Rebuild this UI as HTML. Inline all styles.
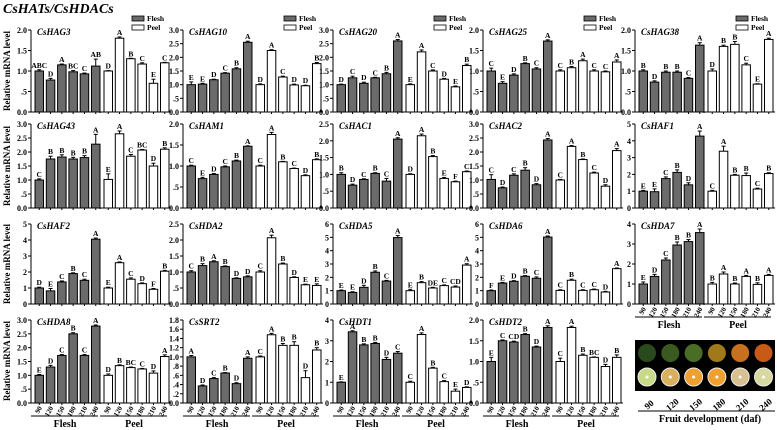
<!DOCTYPE html>
<html><head><meta charset="utf-8"><style>
html,body{margin:0;padding:0;background:#fff;}
svg{display:block;font-family:"Liberation Serif",serif;}
</style></head><body>
<svg id="fig" width="777" height="430" viewBox="0 0 777 430" xmlns="http://www.w3.org/2000/svg">
<text x="3" y="13" font-size="14" font-weight="bold" font-style="italic">CsHATs/CsHDACs</text>
<text transform="translate(10,71) rotate(-90)" font-size="9" font-weight="bold" text-anchor="middle">Relative mRNA level</text>
<text transform="translate(10,166) rotate(-90)" font-size="9" font-weight="bold" text-anchor="middle">Relative mRNA level</text>
<text transform="translate(10,264) rotate(-90)" font-size="9" font-weight="bold" text-anchor="middle">Relative mRNA level</text>
<text transform="translate(10,361) rotate(-90)" font-size="9" font-weight="bold" text-anchor="middle">Relative mRNA level</text>
<g id="photo">
<rect x="635" y="340" width="140" height="51" fill="#000"/>
</g>
</svg>
<script>
const genes=["CsHAG3","CsHAG10","CsHAG20","CsHAG25","CsHAG38","CsHAG43","CsHAM1","CsHAC1","CsHAC2","CsHAF1","CsHAF2","CsHDA2","CsHDA5","CsHDA6","CsHDA7","CsHDA8","CsSRT2","CsHDT1","CsHDT2"];
const stages=["90","120","150","180","210","240"];
const yMax=[2,3,3,2,2, 3,2,2.5,3,5, 5,2.5,6,6,4, 3,1.8,4,2];
const fleshValues=[
[1.0,0.78,1.15,0.98,0.93,1.12],[1.0,1.02,1.18,1.42,1.58,2.55],[1.0,1.25,1.05,1.25,1.4,2.6],[1.0,0.7,0.9,1.18,1.05,1.73],[1.0,0.73,0.97,0.97,0.82,1.63],
[1.0,1.75,1.82,1.75,1.8,2.28],[1.0,0.7,0.8,0.98,1.12,1.47],[1.0,0.68,0.85,1.03,0.8,2.05],[1.02,0.72,1.17,1.35,0.83,2.43],[1.0,0.97,1.75,2.12,1.38,4.28],
[1.0,0.82,1.38,1.9,1.48,4.05],[1.0,1.2,1.32,1.17,0.8,0.85],[1.0,0.87,1.25,2.38,1.72,4.98],[1.0,1.57,1.7,2.08,1.93,5.02],[1.0,1.38,2.2,2.95,3.12,3.57],
[1.0,1.3,1.72,2.5,1.72,2.78],[1.0,0.37,0.53,0.65,0.42,0.97],[1.0,3.43,2.8,2.87,2.1,2.4],[1.0,1.5,1.47,1.65,1.35,1.82]];
const peelValues=[
[1.0,1.8,1.3,1.17,0.7,1.2],[1.0,2.25,1.28,0.99,0.96,1.77],[1.0,2.2,1.5,1.2,0.92,1.7],[1.0,1.08,1.25,1.0,0.98,1.22],[1.0,1.6,1.65,1.15,0.68,1.77],
[1.02,2.65,1.85,2.07,1.5,2.1],[1.0,1.75,1.1,0.94,0.77,1.15],[1.0,2.15,1.53,0.88,0.78,1.08],[1.0,2.2,1.73,1.25,0.78,2.05],[1.0,3.38,1.95,1.93,1.13,2.05],
[1.0,2.58,1.55,1.27,0.92,2.05],[1.0,2.07,1.25,0.83,0.6,0.58],[1.0,1.6,1.2,1.38,1.27,2.92],[1.02,1.78,1.02,1.07,0.9,2.65],[1.0,1.5,1.0,1.38,0.98,1.43],
[1.0,1.35,1.28,1.23,1.08,1.68],[1.0,1.48,1.25,1.25,0.55,1.15],[1.0,3.3,1.68,1.03,0.57,0.75],[1.0,1.82,1.15,1.1,0.88,1.1]];
const fleshLetters=[
["ABC","D","A","BC","C","AB"],["E","E","D","C","B","A"],["D","C","D","C","B","A"],["C","E","D","B","C","A"],["B","D","B","B","C","A"],
["C","B","B","B","B","A"],["C","E","D","C","B","A"],["B","D","C","B","C","A"],["C","D","C","B","D","A"],["E","E","C","B","D","A"],
["D","E","C","B","C","A"],["C","B","A","B","D","D"],["E","E","D","B","C","A"],["F","E","D","B","C","A"],["E","D","C","B","B","A"],
["E","D","C","B","C","A"],["A","D","C","B","D","A"],["E","A","B","B","D","C"],["E","C","CD","B","D","A"]];
const peelLetters=[
["D","A","B","C","E","C"],["D","A","C","D","D","B"],["E","A","C","D","E","B"],["C","B","A","C","C","A"],["D","B","B","C","E","A"],
["E","A","C","BC","D","B"],["C","A","B","C","D","B"],["D","A","B","E","F","C"],["C","A","B","C","D","A"],["C","A","B","B","C","B"],
["E","A","C","D","F","B"],["C","A","B","D","E","E"],["E","B","DE","C","CD","A"],["C","B","C","C","D","A"],["B","A","B","A","B","A"],
["D","B","BC","C","D","A"],["C","A","B","B","D","B"],["C","A","B","C","E","D"],["C","A","B","BC","D","B"]];
const fleshErr=[
[.03,.04,.02,.03,.02,.17],[.1,.03,.02,.02,.04,.04],[.02,.06,.04,.02,.05,.05],[.07,.04,.03,.02,.03,.03],[.03,.03,.03,.03,.02,.06],
[.04,.1,.08,.06,.07,.35],[.02,.03,.02,.02,.02,.01],[.05,.03,.02,.02,.08,.04],[.17,.03,.05,.09,.04,.05],[.05,.17,.1,.15,.12,.3],
[.05,.15,.06,.05,.07,.07],[.04,.06,.03,.02,.02,.03],[.05,.05,.15,.1,.05,.15],[.05,.05,.05,.05,.1,.08],[.1,.1,.1,.15,.1,.18],
[.03,.06,.03,.04,.03,.04],[.03,.02,.02,.01,.02,.03],[.02,.05,.05,.05,.1,.08],[.1,.02,.02,.02,.02,.04]];
const peelErr=[
[.01,.03,.01,.03,.1,.01],[.03,.03,.03,.03,.02,.04],[.03,.07,.04,.03,.03,.05],[.03,.03,.04,.03,.02,.05],[.05,.03,.07,.04,.01,.03],
[.2,.1,.06,.02,.1,.05],[.02,.05,.01,.01,.02,.02],[.02,.05,.03,.03,.02,.02],[.02,.03,.02,.03,.05,.07],[.05,.3,.05,.15,.05,.05],
[.05,.05,.08,.05,.05,.05],[.04,.08,.03,.02,.02,.05],[.1,.08,.05,.05,.08,.1],[.05,.08,.05,.05,.05,.05],[.08,.1,.05,.05,.08,.05],
[.05,.03,.02,.02,.08,.06],[.02,.03,.04,.08,.15,.05],[.05,.08,.04,.05,.1,.03],[.08,.03,.03,.01,.05,.06]];
const axisX=[31,183,333,483,635];
const rowTop=[30,124,224,320];
const rowBase=[112,208,304,403];
const NS="http://www.w3.org/2000/svg";
const svg=document.getElementById('fig');
function mk(tag,attrs,parent,txt){const e=document.createElementNS(NS,tag);for(const k in attrs)e.setAttribute(k,attrs[k]);if(txt!==undefined)e.textContent=txt;(parent||svg).appendChild(e);return e;}
function tickStep(m){if(m===1.8)return 0.2;if(m>=4)return 1;return 0.5;}
function fmt(v,m){if(m>=4)return String(Math.round(v));let s=v.toFixed(1);if(v>0&&v<1)s=s.substring(1);return s;}
const labelPanels=[14,15,16,17,18];
genes.forEach((g,gi)=>{
  const col=gi%5,row=Math.floor(gi/5);
  const ax=axisX[col],top=rowTop[row],base=rowBase[row],m=yMax[gi];
  const y=v=>base-(v/m)*(base-top);
  const grp=mk('g',{},svg);
  
  
  // axes
  const ya=mk('line',{x1:ax,y1:top,x2:ax,y2:base,stroke:'#000','stroke-width':1},grp);
  
  const xa=mk('line',{x1:ax,y1:base,x2:ax+140,y2:base,stroke:'#000','stroke-width':1},grp);
  
  mk('line',{x1:ax+69,y1:base-3,x2:ax+69,y2:base+1,stroke:'#000','stroke-width':1},grp);
  const st=tickStep(m);
  for(let t=0;t<=m+1e-6;t+=st){
    const yy=y(t);
    mk('line',{x1:ax-3,y1:yy,x2:ax,y2:yy,stroke:'#000'},grp);
    const tl=mk('text',{x:ax-4,y:yy+3,'font-size':8,'font-weight':'bold','text-anchor':'end'},grp,fmt(t,m));
    
  }
  const tt=mk('text',{x:ax+6,y:top+5,'font-size':9,'font-weight':'bold','font-style':'italic'},grp,g);
  
  [[fleshValues,fleshErr,fleshLetters,4,'#6b6b6b','flesh'],[peelValues,peelErr,peelLetters,73,'#fff','peel']].forEach(([vals,errs,lets,off,fill,nm])=>{
    vals[gi].forEach((v,i)=>{
      const bx=ax+off+i*11.3,bw=8.5,by=y(v),e=errs[gi][i];
      const r=mk('rect',{x:bx,y:by,width:bw,height:base-by,fill:fill,stroke:'#000','stroke-width':1},grp);
      
      
      const ey=y(v+e),cx=bx+bw/2;
      mk('line',{x1:cx,y1:by,x2:cx,y2:ey,stroke:'#000'},grp);
      mk('line',{x1:cx-2,y1:ey,x2:cx+2,y2:ey,stroke:'#000'},grp);
      const lt=mk('text',{x:cx,y:ey-2,'font-size':7.5,'font-weight':'bold','text-anchor':'middle'},grp,lets[gi][i]);
      
      
    });
    vals[gi].forEach((v,i)=>{
      const tx=ax+off+i*11.3+4.25;
      mk('line',{x1:tx,y1:base,x2:tx,y2:base+2,stroke:'#000'},grp);
    });
  });
  if(row===0){
    const lg=mk('g',{},grp);
    
    mk('rect',{x:ax+101,y:16,width:12,height:5,fill:'#6b6b6b',stroke:'#000','stroke-width':0.8},lg);
    mk('text',{x:ax+116,y:21,'font-size':7.5,'font-weight':'bold'},lg,'Flesh');
    mk('rect',{x:ax+101,y:25,width:12,height:5,fill:'#fff',stroke:'#000','stroke-width':0.8},lg);
    mk('text',{x:ax+116,y:30,'font-size':7.5,'font-weight':'bold'},lg,'Peel');
  }
  if(labelPanels.includes(gi)){
    [4,73].forEach((off,k)=>{
      stages.forEach((s,i)=>{
        const tx=ax+off+i*11.3+4.25;
        const xl=mk('text',{transform:`translate(${tx+3},${base+5}) rotate(-60)`,'font-size':7,'font-weight':'bold','text-anchor':'end'},grp,s);
        
      });
      mk('line',{x1:ax+off-4,y1:base+13,x2:ax+off+63,y2:base+13,stroke:'#000','stroke-width':1},grp);
      const gl=mk('text',{x:ax+off+30,y:base+24,'font-size':10,'font-weight':'bold','text-anchor':'middle'},grp,k===0?'Flesh':'Peel');
      
    });
  }
});
// photo
const photo=document.getElementById('photo');
const wholeCol=['#2a4a1e','#3a5a22','#4a6d26','#a07a1a','#c7701f','#c85a18'];
const halfCol=['#c9d98a','#d9b060','#f0a030','#f0a030','#d8c090','#d8d8a0'];
stages.forEach((s,i)=>{
  const cx=647+i*23.3;
  const w=mk('circle',{cx:cx,cy:353,r:9,fill:wholeCol[i]},photo);
  
  const h=mk('circle',{cx:cx,cy:377,r:9,fill:halfCol[i],stroke:'#eee','stroke-width':1},photo);
  
  mk('circle',{cx:cx,cy:377,r:1.5,fill:'#fff'},photo);
  const l=mk('text',{transform:`translate(${cx+4},${407}) rotate(-40)`,'font-size':9,'font-weight':'bold','text-anchor':'middle'},svg,s);
  
});
mk('line',{x1:638,y1:411,x2:775,y2:411,stroke:'#000'});
const fd=mk('text',{x:710,y:422,'font-size':10,'font-weight':'bold','text-anchor':'middle'},svg,'Fruit development  (daf)');


</script>
</body></html>
